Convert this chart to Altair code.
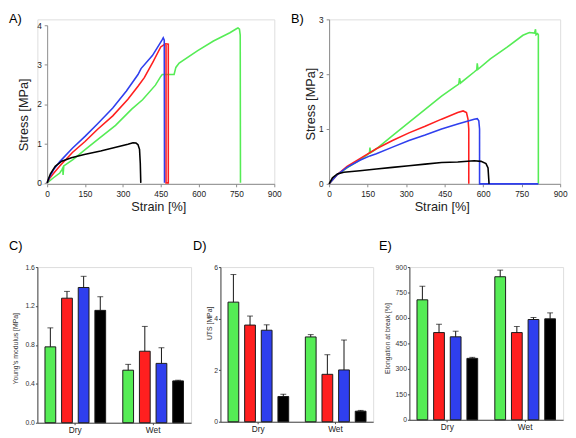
import altair as alt
import pandas as pd

FONT = "Liberation Sans"
SERIES = ["G", "R", "B", "K"]
LINE_COLORS = ["#55ec55", "#ff1f1f", "#2f3fee", "#000000"]
BAR_COLORS = ["#3ef03e", "#ff1414", "#2a46f2", "#000000"]
CONDITIONS = ["Dry", "Wet"]
STRAIN_TICKS = [0, 150, 300, 450, 600, 750, 900]

# ---------------- Panel A (dry) stress-strain curves ----------------
A_GREEN_X = [0, 25, 50, 58, 62, 63, 66, 102, 154, 206, 271, 335, 378, 429, 449, 456, 503, 510, 523, 595, 659, 724, 750, 756, 762, 765, 766]
A_GREEN_Y = [0, 0.13, 0.25, 0.33, 0.38, 0.20, 0.43, 0.59, 0.86, 1.13, 1.46, 1.87, 2.11, 2.48, 2.69, 2.75, 2.75, 2.93, 3.04, 3.35, 3.60, 3.81, 3.91, 3.93, 3.90, 3.75, 0]
A_RED_X = [0, 10, 25, 50, 100, 150, 200, 260, 320, 360, 385, 420, 450, 462, 470, 480, 480, 471, 471]
A_RED_Y = [0, 0.12, 0.24, 0.43, 0.77, 1.05, 1.36, 1.70, 2.12, 2.45, 2.67, 3.08, 3.45, 3.50, 3.53, 3.52, 0, 0, 3.50]
A_BLUE_X = [0, 10, 25, 50, 100, 150, 200, 260, 314, 360, 372, 417, 455, 460, 464, 465]
A_BLUE_Y = [0, 0.15, 0.33, 0.54, 0.88, 1.18, 1.50, 1.90, 2.33, 2.75, 2.90, 3.23, 3.62, 3.68, 3.62, 0]
A_BLACK_X = [0, 5, 13, 32, 58, 96, 147, 212, 276, 320, 340, 352, 360, 366, 369, 371]
A_BLACK_Y = [0, 0.10, 0.23, 0.42, 0.55, 0.64, 0.72, 0.81, 0.91, 0.98, 1.02, 1.01, 0.97, 0.85, 0.50, 0]

# ---------------- Panel B (wet) stress-strain curves ----------------
B_GREEN_X = [0, 32, 70, 108, 146, 157, 159, 162, 184, 247, 311, 374, 438, 489, 505, 508, 512, 565, 575, 577, 580, 628, 692, 755, 780, 800, 804, 806, 812, 815, 815]
B_GREEN_Y = [0, 0.17, 0.29, 0.40, 0.52, 0.56, 0.66, 0.57, 0.64, 0.88, 1.12, 1.36, 1.60, 1.77, 1.82, 1.93, 1.84, 2.04, 2.08, 2.20, 2.09, 2.28, 2.49, 2.71, 2.76, 2.75, 2.82, 2.72, 2.74, 2.72, 0]
B_RED_X = [0, 32, 70, 120, 184, 247, 311, 374, 438, 501, 522, 535, 541, 544, 544]
B_RED_Y = [0, 0.17, 0.32, 0.46, 0.64, 0.79, 0.93, 1.05, 1.18, 1.30, 1.33, 1.30, 1.18, 1.00, 0]
B_BLUE_X = [0, 32, 70, 120, 159, 184, 247, 311, 374, 438, 501, 565, 577, 583, 586, 586, 815]
B_BLUE_Y = [0, 0.17, 0.30, 0.43, 0.51, 0.55, 0.67, 0.79, 0.89, 1.00, 1.09, 1.18, 1.19, 1.15, 1.00, 0, 0]
B_BLACK_X = [0, 13, 32, 57, 120, 184, 247, 311, 374, 438, 501, 565, 592, 611, 619, 623]
B_BLACK_Y = [0, 0.11, 0.18, 0.21, 0.24, 0.27, 0.30, 0.33, 0.36, 0.39, 0.40, 0.42, 0.41, 0.37, 0.29, 0]

# ---------------- Panels C, D, E (bars: mean and upper error) ----------------
C_DRY_MEAN = [0.78, 1.28, 1.39, 1.155]
C_DRY_SD = [0.195, 0.07, 0.115, 0.14]
C_WET_MEAN = [0.54, 0.735, 0.61, 0.43]
C_WET_SD = [0.06, 0.255, 0.16, 0.007]

D_DRY_MEAN = [4.64, 3.75, 3.55, 0.98]
D_DRY_SD = [1.07, 0.35, 0.21, 0.09]
D_WET_MEAN = [3.29, 1.84, 2.01, 0.41]
D_WET_SD = [0.09, 0.76, 1.16, 0.03]

E_DRY_MEAN = [707, 514, 489, 362]
E_DRY_SD = [80, 49, 33, 6]
E_WET_MEAN = [843, 514, 591, 595]
E_WET_SD = [39, 36, 12, 35]


def one_row():
    return alt.Data(values=[{"k": 1}])


def anchor(x1, x2, y1, y2):
    return alt.Chart(one_row()).mark_rule(opacity=0).encode(
        x=alt.value(x1), x2=alt.value(x2), y=alt.value(y1), y2=alt.value(y2)
    )


def panel_label(txt, x, y):
    return alt.Chart(one_row()).mark_text(
        text=txt, align="left", baseline="top", font=FONT, fontSize=13, color="black"
    ).encode(x=alt.value(x), y=alt.value(y))


def curve_panel(curves, ymax, w, h, xrange, yrange, yoffset, lab, lab_xy, anc, yt_xy, xt_xy):
    rows = []
    for s, xs, ys in curves:
        for i, (x, y) in enumerate(zip(xs, ys)):
            rows.append({"series": s, "strain": x, "stress": y, "i": i})
    df = pd.DataFrame(rows)
    axis_common = dict(
        grid=False, domainColor="#8a8a8a", tickColor="#8a8a8a", tickSize=3,
        labelFont=FONT, labelFontSize=8.5, labelColor="#222",
        titleFont=FONT, titleFontSize=13, titleFontWeight="normal", titleColor="#222",
        titleBaseline="middle", labelOverlap=False,
    )
    lines = alt.Chart(df).mark_line(strokeWidth=1.6).encode(
        x=alt.X("strain:Q", scale=alt.Scale(domain=[0, 900], range=xrange, nice=False),
                axis=alt.Axis(values=STRAIN_TICKS, format="d", title="Strain [%]",
                              labelPadding=3, labelFlush=False,
                              titleX=xt_xy[0], titleY=xt_xy[1], **axis_common)),
        y=alt.Y("stress:Q", scale=alt.Scale(domain=[0, ymax], range=yrange, nice=False),
                axis=alt.Axis(values=list(range(ymax + 1)), format="d", title="Stress [MPa]",
                              labelPadding=3, titleAngle=270, offset=yoffset,
                              titleX=yt_xy[0], titleY=yt_xy[1], **axis_common)),
        color=alt.Color("series:N", scale=alt.Scale(domain=SERIES, range=LINE_COLORS), legend=None),
        order=alt.Order("i:Q"),
    )
    return alt.layer(anchor(*anc), panel_label(lab, *lab_xy), lines).properties(width=w, height=h)


def bar_panel(dry_m, dry_s, wet_m, wet_s, ymax, yvals, fmt, ytitle, w, h, lab, lab_xy, anc, yt_xy):
    rows = []
    for cond, ms, ss in (("Dry", dry_m, dry_s), ("Wet", wet_m, wet_s)):
        for s, m, e in zip(SERIES, ms, ss):
            rows.append({"cond": cond, "series": s, "mean": m, "top": m + e})
    df = pd.DataFrame(rows)
    xenc = alt.X("cond:N", scale=alt.Scale(domain=CONDITIONS, paddingInner=0.17, paddingOuter=0.0725),
                 axis=alt.Axis(title=None, labelAngle=0, domainColor="#444", tickColor="#444",
                               tickSize=2, labelPadding=1, labelFont=FONT, labelFontSize=8.5,
                               labelColor="#222"))
    xoff = alt.XOffset("series:N", scale=alt.Scale(domain=SERIES, paddingInner=0.353, paddingOuter=0.1176))
    yaxis = alt.Axis(values=yvals, format=fmt, title=ytitle, grid=False, domainColor="#444",
                     tickColor="#444", tickSize=2, labelPadding=1, labelFont=FONT, labelFontSize=7,
                     labelColor="#333", titleFont=FONT, titleFontSize=7, titleFontWeight="normal",
                     titleColor="#333", titleAngle=270, titleBaseline="middle",
                     titleX=yt_xy[0], titleY=yt_xy[1])
    yscale = alt.Scale(domain=[0, ymax], nice=False)
    bars = alt.Chart(df).mark_bar(stroke="#1a1a1a", strokeWidth=1).encode(
        x=xenc, xOffset=xoff,
        y=alt.Y("mean:Q", scale=yscale, axis=yaxis),
        color=alt.Color("series:N", scale=alt.Scale(domain=SERIES, range=BAR_COLORS), legend=None),
    )
    err = alt.Chart(df).mark_rule(color="#111", strokeWidth=1).encode(
        x=xenc, xOffset=xoff, y=alt.Y("mean:Q", scale=yscale, axis=yaxis), y2="top:Q"
    )
    cap = alt.Chart(df).mark_tick(color="#111", thickness=1, size=6, orient="horizontal").encode(
        x=xenc, xOffset=xoff, y=alt.Y("top:Q", scale=yscale, axis=yaxis)
    )
    return alt.layer(anchor(*anc), panel_label(lab, *lab_xy), bars, err, cap).properties(width=w, height=h)


# top row: plot origins share y; A is drawn inside a slightly larger frame via scale ranges
panel_a = curve_panel(
    [("G", A_GREEN_X, A_GREEN_Y), ("R", A_RED_X, A_RED_Y), ("B", A_BLUE_X, A_BLUE_Y), ("K", A_BLACK_X, A_BLACK_Y)],
    4, 242, 168, [10, 242], [167, 6], -10, "A)", (-29, -6), (-29, 257, -6, 224), (-24, 97), (123.5, 23),
)
panel_b = curve_panel(
    [("G", B_GREEN_X, B_GREEN_Y), ("R", B_RED_X, B_RED_Y), ("B", B_BLUE_X, B_BLUE_Y), ("K", B_BLACK_X, B_BLACK_Y)],
    3, 236, 168, [0, 236], [168, 0], 0, "B)", (-39, -6), (-39, 0, -6, 224), (-19, 86), (115, 23),
)

panel_c = bar_panel(C_DRY_MEAN, C_DRY_SD, C_WET_MEAN, C_WET_SD, 1.6, [0, 0.4, 0.8, 1.2, 1.6], ".1f",
                    "Young's modulus [MPa]", 157, 159, "C)", (-29, -27), (-29, 157, -27, 0), (-22, 83))
panel_d = bar_panel(D_DRY_MEAN, D_DRY_SD, D_WET_MEAN, D_WET_SD, 6, [0, 2, 4, 6], "d",
                    "UTS [MPa]", 156, 158, "D)", (-28, -27), (-28, 160, -27, 0), (-11, 57))
panel_e = bar_panel(E_DRY_MEAN, E_DRY_SD, E_WET_MEAN, E_WET_SD, 900, [0, 150, 300, 450, 600, 750, 900], "d",
                    "Elongation at break [%]", 157, 156, "E)", (-31, -27), (-31, 0, -27, 0), (-22, 72.5))

top = alt.hconcat(panel_a, panel_b, spacing=0)
bottom = alt.hconcat(panel_c, panel_d, panel_e, spacing=0)
chart = alt.vconcat(top, bottom, spacing=0, padding=0).configure_view(strokeWidth=0).configure(background="white")

chart.save("out.html", embed_options={"renderer": "svg", "actions": False})
